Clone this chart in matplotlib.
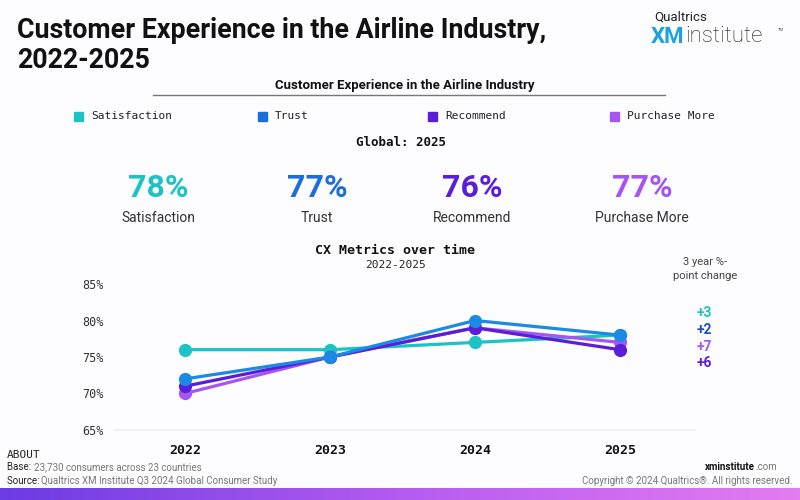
import numpy as np
import matplotlib.pyplot as plt
from matplotlib.patches import Rectangle
from matplotlib.colors import LinearSegmentedColormap

# data
years = ["2022", "2023", "2024", "2025"]
metrics = ["Satisfaction", "Trust", "Recommend", "Purchase More"]
satisfaction = [76, 76, 77, 78]
trust = [72, 75, 80, 78]
recommend = [71, 75, 79, 76]
purchase_more = [70, 75, 79, 77]
latest = ["78%", "77%", "76%", "77%"]
changes = ["+3", "+2", "+7", "+6"]
yticks = [65, 70, 75, 80, 85]

colors = {"Satisfaction": "#1CC3C4", "Trust": "#1A6FDD",
          "Recommend": "#5A1ED8", "Purchase More": "#A455F2"}
line_colors = {"Satisfaction": "#1CC3C4", "Trust": "#1A8AE2",
               "Recommend": "#5A1ED8", "Purchase More": "#A455F2"}
change_colors = ["#1CC3C4", "#1A4FC8", "#A455F2", "#5A1ED8"]
mono = "DejaVu Sans Mono"
sans = "Roboto"

fig = plt.figure(figsize=(8, 5), dpi=100)
fig.patch.set_facecolor("#FDFCFF")

def fx(px):
    return px / 800

def fy(py):
    return 1 - py / 500

# title
fig.text(fx(17), fy(31), "Customer Experience in the Airline Industry,",
         fontsize=19.3, fontweight="bold", family=sans, va="center", ha="left", color="#111111")
fig.text(fx(17), fy(61), "2022-2025",
         fontsize=19.3, fontweight="bold", family=sans, va="center", ha="left", color="#111111")

# logo
fig.text(fx(654), fy(17), "Qualtrics", fontsize=9.5, family=sans, color="#222222", va="center")
fig.text(fx(651), fy(37), "XM", fontsize=16, fontweight="bold", family=sans, color="#1AA3E0",
         va="center")
fig.text(fx(685), fy(37), "institute", fontsize=16, family=sans, color="#222222", va="center",
         fontweight="light")
fig.text(fx(778), fy(30), "TM", fontsize=3, family=sans, color="#444444", va="center")

# header
fig.text(fx(405), fy(86), "Customer Experience in the Airline Industry", fontsize=9.5,
         fontweight="bold", family=sans, ha="center", va="center", color="#111111")
fig.add_artist(plt.Line2D([fx(153), fx(665)], [fy(95), fy(95)], color="#777777", lw=1))

# legend row
leg_x = [74, 258, 428, 610]
for m, x in zip(metrics, leg_x):
    fig.add_artist(Rectangle((fx(x), fy(121)), fx(9), 9 / 500, color=colors[m]))
    fig.text(fx(x + 17), fy(116), m, fontsize=8, family=mono, va="center", color="#222222")

fig.text(fx(401), fy(143), "Global: 2025", fontsize=9, fontweight="bold", family=mono,
         ha="center", va="center", color="#111111")

# big numbers
big_x = [158, 317, 472, 642]
for m, v, x in zip(metrics, latest, big_x):
    fig.text(fx(x), fy(188), v, fontsize=23, fontweight="bold", family=sans, ha="center",
             va="center", color=colors[m])
    fig.text(fx(x), fy(218), m, fontsize=10, family=sans, ha="center", va="center",
             color="#333333")

# line chart
ax = fig.add_axes([fx(115), fy(430), fx(580), (430 - 284) / 500])
ax.set_facecolor("none")
xs = np.arange(len(years))
series = {"Satisfaction": satisfaction, "Purchase More": purchase_more,
          "Recommend": recommend, "Trust": trust}
for m, vals in series.items():
    ax.plot(xs, vals, color=line_colors[m], lw=2.3, marker="o", ms=8.5, clip_on=False,
            zorder=3)

ax.set_xlim(-70 / 145, 3 + 75 / 145)
ax.set_ylim(65, 85)
ax.set_yticks(yticks)
ax.set_yticklabels([f"{t}%" for t in yticks], family=mono, fontsize=8.5, color="#333333")
ax.set_xticks(xs)
ax.set_xticklabels(years, family=mono, fontsize=9.5, fontweight="bold", color="#111111")
ax.tick_params(length=0)
ax.tick_params(axis="x", pad=10)
ax.tick_params(axis="y", pad=8)
for s in ["top", "right", "left"]:
    ax.spines[s].set_visible(False)
ax.spines["bottom"].set_color("#EEEEEE")
ax.spines["bottom"].set_linewidth(1.2)

fig.text(fx(395), fy(251), "CX Metrics over time", fontsize=9.5, fontweight="bold",
         family=mono, ha="center", va="center", color="#111111")
fig.text(fx(395), fy(265), "2022-2025", fontsize=8, family=mono, ha="center", va="center",
         color="#222222")

# change labels
fig.text(fx(705), fy(269), "3 year %-\npoint change", fontsize=8, family=sans, ha="center",
         va="center", color="#444444", linespacing=1.4)
change_y = [313, 330, 347, 363]
for c, col, y in zip(changes, change_colors, change_y):
    fig.text(fx(697), fy(y), c, fontsize=10, fontweight="bold", family=sans, va="center",
             color=col)

# footer
grey = "#777777"
fig.text(fx(7), fy(455), "ABOUT", fontsize=8, family=mono, va="center", color="#222222")
fig.text(fx(7), fy(467), "Base: ", fontsize=7, family=sans, va="center", color="#222222")
fig.text(fx(34), fy(467), "23,730 consumers across 23 countries", fontsize=7, family=sans,
         va="center", color=grey)
fig.text(fx(7), fy(481), "Source: ", fontsize=7, family=sans, va="center", color="#222222")
fig.text(fx(41), fy(481), "Qualtrics XM Institute Q3 2024 Global Consumer Study", fontsize=7,
         family=sans, va="center", color=grey)
fig.text(fx(755), fy(467), "xminstitute", fontsize=7, fontweight="bold", family=sans,
         ha="right", va="center", color="#111111")
fig.text(fx(755), fy(467), ".com", fontsize=7, family=sans, ha="left", va="center",
         color=grey)
fig.text(fx(793), fy(481), "Copyright © 2024 Qualtrics®. All rights reserved.", fontsize=7,
         family=sans, ha="right", va="center", color=grey)

# gradient bar
grad = np.linspace(0, 1, 256).reshape(1, -1)
gax = fig.add_axes([0, 0, 1, 12 / 500])
gax.imshow(grad, aspect="auto", cmap=LinearSegmentedColormap.from_list(
    "g", ["#6B3BE3", "#B45BF0", "#E47CF2"]))
gax.axis("off")

fig.savefig("out.png", dpi=100, facecolor=fig.get_facecolor())
